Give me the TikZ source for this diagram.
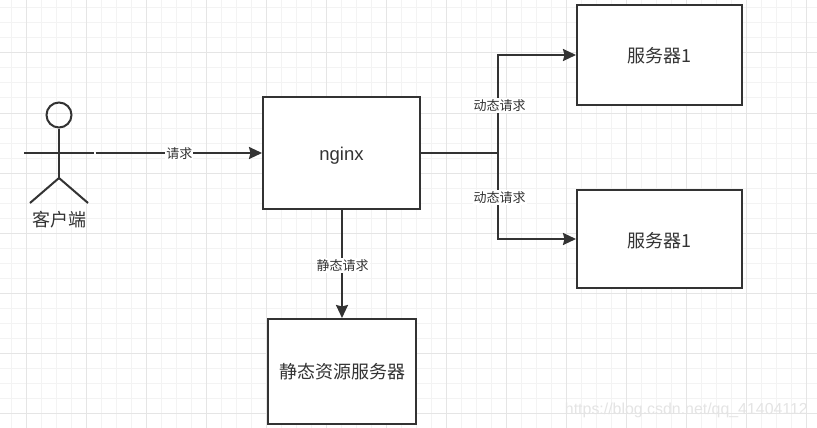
\documentclass[tikz,border=0pt]{standalone}
\usepackage{fontspec}
\setmainfont{Liberation Sans}
\newfontfamily\cjk{Noto Sans CJK SC}
\usetikzlibrary{arrows.meta}
\definecolor{ink}{HTML}{333333}
\definecolor{gridminor}{HTML}{F3F3F3}
\definecolor{gridmajor}{HTML}{E5E5E5}
\definecolor{wmcolor}{HTML}{E4E4E4}
\tikzset{
  x=1pt,y=-1pt,
  box/.style={draw=ink,line width=2pt,fill=white,inner sep=0pt,text=ink,font=\fontsize{18}{20}\selectfont\cjk},
  link/.style={draw=ink,line width=2pt,-{Stealth[length=13pt,width=12pt,inset=1.5pt]}},
  wire/.style={draw=ink,line width=2pt},
  edgelabel/.style={fill=white,inner sep=1pt,text=ink,font=\fontsize{13}{15}\selectfont\cjk},
}
\begin{document}
\begin{tikzpicture}
\useasboundingbox (0,0) rectangle (817,428);
\fill[white] (0,0) rectangle (817,428);
\foreach \gx in {11.7,41.7,56.7,71.7,101.7,116.7,131.7,161.7,176.7,191.7,221.7,236.7,251.7,281.7,296.7,311.7,341.7,356.7,371.7,401.7,416.7,431.7,461.7,476.7,491.7,521.7,536.7,551.7,581.7,596.7,611.7,641.7,656.7,671.7,701.7,716.7,731.7,761.7,776.7,791.7}
  \draw[gridminor,line width=1pt] (\gx,0) -- (\gx,428);
\foreach \gy in {8,23,38,68,83,98,128,143,158,188,203,218,248,263,278,308,323,338,368,383,398,428}
  \draw[gridminor,line width=1pt] (0,\gy) -- (817,\gy);
\foreach \gx in {26.7,86.7,146.7,206.7,266.7,326.7,386.7,446.7,506.7,566.7,626.7,686.7,746.7,806.7}
  \draw[gridmajor,line width=1pt] (\gx,0) -- (\gx,428);
\foreach \gy in {53,113,173,233,293,353,413}
  \draw[gridmajor,line width=1pt] (0,\gy) -- (817,\gy);

\node[box,minimum width=157pt,minimum height=112pt,font=\fontsize{18.5}{20}\selectfont,text height=17pt,text depth=2pt] (nginx) at (341.5,153) {nginx};
\node[box,minimum width=165pt,minimum height=100pt,text height=17pt,text depth=1pt] (srvA) at (659.5,55) {服务器1};
\node[box,minimum width=165pt,minimum height=98pt,text height=17pt,text depth=1pt] (srvB) at (659.5,239) {服务器1};
\node[box,minimum width=148pt,minimum height=105pt] (static) at (342,371.5) {静态资源服务器};

% actor
\node[draw=ink,line width=2pt,circle,inner sep=0pt,minimum size=25pt] (head) at (59,115) {};
\coordinate (hip) at (59,178);
\coordinate (handL) at (24,153);
\coordinate (handR) at (94,153);
\coordinate (footL) at (30,203);
\coordinate (footR) at (88,203);
\coordinate (start) at (95.5,153);
\draw[wire] (head) -- (hip);
\draw[wire] (handL) -- (handR);
\draw[wire] (footL) -- (hip) -- (footR);
\node[text=ink,inner sep=0pt,font=\fontsize{18}{20}\selectfont\cjk] (actorlabel) at (59,220) {客户端};

% connectors
\coordinate (fork) at (498,153);
\coordinate (up) at (498,55);
\coordinate (down) at (498,239);
\draw[link] (start) -- (nginx.west) node[edgelabel,pos=0.5,xshift=0.5pt,yshift=-0.5pt] (reqlabel) {请求};
\draw[wire] (nginx.east) -- (fork);
\draw[link] (fork) -- (up) -- (srvA.west);
\draw[link] (fork) -- (down) -- (srvB.west);
\draw[link] (nginx.south -| static.north) -- (static.north);
\node[edgelabel] (labA) at (499.5,105.5) {动态请求};
\node[edgelabel] (labB) at (499.5,197.5) {动态请求};
\node[edgelabel] (labC) at (342.5,265.5) {静态请求};

% watermark
\node[text=wmcolor,inner sep=0pt,anchor=east,font=\fontsize{15.9}{18}\selectfont] (wm) at (808,410) {https://blog.csdn.net/qq\_41404112};
\end{tikzpicture}
\end{document}
